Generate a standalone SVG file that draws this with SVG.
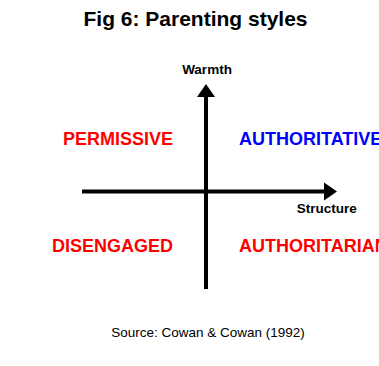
<svg xmlns="http://www.w3.org/2000/svg" width="379" height="366" viewBox="0 0 379 366">
<style>
text{font-family:"Liberation Sans",Arial,sans-serif}
.t{font-size:21px;font-weight:bold;fill:#000}
.ax{font-size:13.5px;font-weight:bold;fill:#000}
.q{font-size:18px;font-weight:bold}
.r{fill:#ff0000}
.b{fill:#0000ff}
.src{font-size:13.5px;fill:#000}
.line{stroke:#000;stroke-width:4;fill:none}
</style>
<defs>
<marker id="ah" markerUnits="userSpaceOnUse" markerWidth="14" markerHeight="20" refX="0" refY="10" orient="auto">
<path d="M0,1 L13,10 L0,19 Z" fill="#000"/>
</marker>
</defs>
<rect width="379" height="366" fill="#fff"/>
<text class="t" x="195.5" y="26" text-anchor="middle">Fig 6: Parenting styles</text>
<g id="connectors">
<line class="line" x1="206" y1="289" x2="206" y2="97" marker-end="url(#ah)"/>
<line class="line" x1="82" y1="191.5" x2="324" y2="191.5" marker-end="url(#ah)"/>
</g>
<g id="warmth"><text class="ax" x="207" y="73.5" text-anchor="middle">Warmth</text></g>
<g id="structure"><text class="ax" x="326.7" y="213" text-anchor="middle">Structure</text></g>
<g id="permissive"><text class="q r" x="173" y="145" text-anchor="end">PERMISSIVE</text></g>
<g id="authoritative"><text class="q b" x="239" y="145">AUTHORITATIVE</text></g>
<g id="disengaged"><text class="q r" x="173" y="252" text-anchor="end">DISENGAGED</text></g>
<g id="authoritarian"><text class="q r" x="239" y="252">AUTHORITARIAN</text></g>
<text class="src" x="208" y="337" text-anchor="middle">Source: Cowan &amp; Cowan (1992)</text>
</svg>
